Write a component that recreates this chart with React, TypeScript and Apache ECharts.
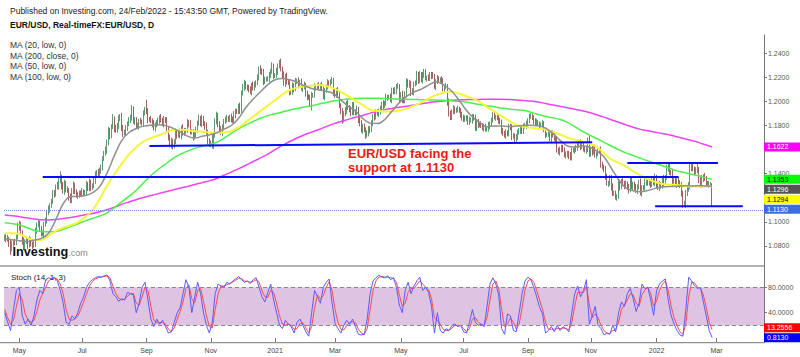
import { useEffect, useRef } from 'react';
import * as echarts from 'echarts';

// ---------------- data ----------------
const START_Y = 2020, START_M = 3, START_D = 17; // first bar: 17 Apr 2020 (weekday bars)
const SLOT_COUNT = 520; // 485 bars + empty future space on the right
const FIRST_OPEN = 10862; // pips
// daily closes in pips (1.0875 -> 10875), Apr 17 2020 .. Feb 24 2022
const closePips = [
  10875,
  10860,10855,10822,10775,10822, 10830,10825,10875,10955,10980,
  10910,10840,10795,10835,10840, 10805,10850,10815,10805,10820,
  10920,10975,10990,10945,10900, 10900,10980,11005,11075,11105,
  11135,11170,11235,11230,11290, 11295,11340,11370,11300,11255,
  11320,11265,11260,11205,11175, 11260,11305,11250,11220,11220,
  11240,11235,11250,11240,11245, 11310,11275,11330,11285,11300,
  11345,11400,11410,11385,11430, 11445,11525,11570,11595,11655,
  11750,11715,11790,11845,11775, 11760,11800,11855,11875,11785,
  11735,11735,11785,11815,11840, 11870,11930,11835,11850,11795,
  11795,11835,11830,11820,11905, 11935,11915,11850,11850,11840,
  11815,11780,11805,11815,11845, 11865,11845,11815,11850,11840,
  11770,11705,11660,11670,11630, 11665,11745,11720,11745,11715,
  11780,11735,11760,11760,11825, 11815,11745,11750,11705,11720,
  11770,11820,11860,11815,11860, 11815,11795,11745,11675,11645,
  11640,11715,11720,11830,11875, 11815,11775,11740,11780,11835,
  11855,11860,11850,11870,11855, 11840,11890,11920,11915,11960,
  11925,12070,12115,12150,12120, 12110,12105,12080,12135,12110,
  12145,12155,12195,12270,12255, 12240,12165,12185,12185,12190,
  12215,12250,12295,12215,12215, 12250,12295,12325,12270,12220,
  12150,12210,12160,12155,12080, 12075,12130,12105,12165,12170,
  12140,12160,12110,12120,12135, 12060,12040,12035,11965,12050,
  12050,12120,12120,12130,12120, 12130,12105,12040,12090,12120,
  12155,12150,12165,12175,12075, 12050,12090,12060,11965,11915,
  11845,11900,11925,11985,11950, 11930,11905,11975,11915,11905,
  11935,11850,11815,11760,11795, 11765,11720,11730,11775,11765,
  11815,11875,11870,11915,11900, 11910,11945,11980,11965,11985,
  12035,12035,12035,12015,12095, 12080,12090,12125,12125,12020,
  12060,12015,12005,12065,12165, 12135,12150,12075,12080,12145,
  12155,12225,12175,12225,12180, 12215,12250,12195,12195,12190,
  12225,12215,12210,12125,12165, 12190,12175,12180,12175,12105,
  12120,12125,11995,11905,11865, 11915,11940,11925,11930,11935,
  11925,11895,11860,11850,11865, 11865,11825,11845,11845,11875,
  11860,11775,11835,11810,11805, 11800,11780,11795,11770,11770,
  11800,11815,11845,11890,11870, 11870,11865,11835,11830,11760,
  11735,11720,11740,11730,11795, 11780,11710,11715,11675,11700,
  11745,11760,11770,11750,11795, 11800,11810,11840,11875,11880,
  11865,11840,11815,11825,11815, 11805,11805,11815,11765,11725,
  11725,11725,11690,11740,11720, 11695,11685,11595,11580,11595,
  11620,11600,11555,11555,11570, 11550,11530,11595,11595,11600,
  11610,11635,11655,11625,11645, 11605,11595,11600,11680,11560,
  11605,11580,11610,11555,11565, 11585,11595,11480,11455,11445,
  11370,11320,11320,11370,11290, 11235,11240,11205,11210,11320,
  11290,11335,11320,11300,11315, 11285,11265,11345,11290,11315,
  11285,11260,11290,11330,11240, 11285,11280,11330,11330,11320,
  11325,11310,11350,11325,11370, 11300,11285,11310,11295,11360,
  11325,11370,11445,11465,11410, 11405,11325,11345,11310,11345,
  11325,11300,11240,11145,11145, 11235,11270,11300,11440,11450,
  11440,11415,11425,11425,11350, 11305,11360,11375,11360,11320,
  11310,11310,11310,11130,
];
// upper / lower shadow beyond the body, in 10-pip units
const wickUp = [
  2,2,3,2,3,2,2,3,2,4,3,2,2,3,2,3,2,3,2,2,
  2,3,2,3,2,2,3,2,3,2,3,2,2,3,3,2,4,3,5,2,
  3,3,2,3,2,3,2,3,2,2,3,2,2,3,2,2,3,2,3,2,
  2,3,2,2,3,2,3,2,2,3,3,4,3,2,5,3,3,2,3,2,
  3,2,3,2,2,3,2,4,3,2,2,3,2,3,2,2,2,8,3,2,
  3,2,3,2,3,2,2,3,2,3,2,3,2,2,3,2,2,3,2,2,
  3,2,3,2,2,3,2,3,2,2,3,2,2,3,2,3,2,2,3,2,
  2,3,2,2,3,4,3,2,2,3,2,2,3,2,2,3,2,3,2,2,
  2,3,2,3,3,2,2,3,2,2,3,2,2,3,2,3,2,3,2,2,
  2,3,2,3,2,2,3,2,2,3,2,3,2,3,2,2,2,3,2,3,
  2,3,2,3,2,3,2,3,2,2,3,2,3,2,2,3,2,3,2,2,
  2,3,2,2,3,2,3,2,3,2,2,3,2,3,2,3,2,3,2,2,
  2,3,2,2,3,2,2,2,3,2,2,3,2,3,2,2,3,2,2,3,
  2,3,2,2,3,2,2,3,2,3,2,2,3,2,2,3,2,3,2,3,
  2,2,3,2,3,2,3,2,2,2,3,2,2,3,2,2,3,2,2,3,
  2,2,3,2,3,2,2,3,2,2,3,2,2,2,3,2,2,2,3,2,
  2,2,3,2,2,2,3,2,2,2,2,3,2,2,2,3,2,2,2,3,
  2,2,2,3,2,2,2,3,2,2,3,2,2,2,3,2,2,3,2,2,
  3,2,2,2,3,2,2,2,3,2,2,2,3,2,2,2,3,2,2,2,
  3,2,2,2,3,2,2,3,2,2,2,3,2,2,3,2,2,2,3,2,
  4,2,3,2,3,2,2,2,3,2,2,2,3,2,2,2,3,2,2,2,
  3,3,2,3,2,3,2,3,2,3,2,2,3,2,2,3,2,2,3,2,
  2,3,2,3,2,3,2,2,3,2,2,3,2,3,2,3,2,3,2,3,
  2,3,2,3,2,3,3,2,3,4,4,3,2,3,7,3,2,3,2,3,
  2,2,3,2,1,
];
const wickDn = [
  2,3,2,3,5,2,3,2,2,2,3,2,3,3,2,2,3,2,2,3,
  2,3,2,2,3,2,2,3,2,2,2,3,2,2,3,2,2,3,2,3,
  2,3,2,2,3,2,2,3,2,2,3,2,2,3,2,2,3,2,2,3,
  2,2,3,2,2,2,3,2,2,2,3,2,3,2,2,3,2,2,3,2,
  3,3,2,2,3,2,2,3,2,3,2,2,3,2,2,3,2,2,3,2,
  2,3,2,3,2,2,3,2,2,3,2,2,3,4,5,3,2,2,3,2,
  2,3,2,2,3,2,3,2,2,3,2,2,3,2,2,3,2,3,2,3,
  2,2,3,11,2,2,3,2,2,3,2,2,3,2,2,3,2,2,3,2,
  2,3,2,2,3,2,2,3,2,3,2,2,3,2,2,3,2,3,2,2,
  2,3,2,2,3,2,2,3,2,2,3,2,3,2,2,3,2,2,3,2,
  2,3,2,2,3,2,2,3,2,1,4,2,2,3,2,2,3,2,2,3,
  2,2,3,2,2,3,2,2,3,2,2,3,2,2,3,2,2,3,2,3,
  2,2,3,2,2,3,2,3,2,2,3,2,2,3,2,2,3,2,2,3,
  2,2,3,2,2,3,2,2,3,2,3,2,3,2,2,3,2,2,3,2,
  3,2,2,3,2,2,3,2,2,3,2,2,3,2,2,3,2,2,3,2,
  2,3,2,3,3,2,2,2,3,2,2,2,3,2,2,2,3,2,2,2,
  3,2,2,2,3,2,2,2,3,2,2,2,3,2,2,2,3,2,2,2,
  3,2,2,3,2,2,2,3,2,3,2,2,2,3,2,2,2,3,2,2,
  2,2,3,2,2,2,3,2,2,2,3,2,2,2,3,2,2,3,2,2,
  3,2,2,2,3,2,3,2,2,2,3,2,2,2,3,2,2,2,3,2,
  2,2,3,2,2,3,2,2,3,2,3,2,2,3,2,3,2,2,2,3,
  2,3,2,2,3,2,2,3,2,2,3,2,2,3,2,2,3,2,2,3,
  2,2,3,2,2,3,2,2,3,2,2,3,2,2,3,2,2,3,2,2,
  3,2,2,3,3,2,3,2,2,3,2,2,3,2,2,3,2,2,3,2,
  2,2,3,2,0,
];

// moving averages read every 5 bars (bars 0,5,...,480 and the last bar 484)
const ma20Low = [
  1.0860,1.0852,1.0843,1.0836,1.0848,1.0862,1.0905,1.1020,1.1150,1.1210,
  1.1212,1.1218,1.1240,1.1292,1.1405,1.1550,1.1675,1.1742,1.1775,1.1795,
  1.1803,1.1806,1.1801,1.1778,1.1747,1.1712,1.1696,1.1710,1.1722,1.1740,
  1.1770,1.1800,1.1860,1.1950,1.2020,1.2080,1.2140,1.2180,1.2190,1.2180,
  1.2160,1.2130,1.2108,1.2096,1.2085,1.2064,1.2012,1.1960,1.1920,1.1858,
  1.1820,1.1816,1.1850,1.1920,1.1990,1.2043,1.2078,1.2102,1.2135,1.2163,
  1.2140,1.2095,1.2025,1.1940,1.1872,1.1825,1.1790,1.1796,1.1797,1.1791,
  1.1795,1.1801,1.1802,1.1799,1.1778,1.1735,1.1677,1.1630,1.1622,1.1630,
  1.1622,1.1590,1.1540,1.1445,1.1350,1.1282,1.1258,1.1250,1.1260,1.1278,
  1.1290,1.1294,1.1295,1.1300,1.1298,1.1300,1.1298,
  1.1296,
];
const ma50Low = [
  1.0905,1.0905,1.0900,1.0870,1.0850,1.0850,1.0885,1.0925,1.0950,1.0972,
  1.0995,1.1040,1.1095,1.1190,1.1300,1.1395,1.1480,1.1560,1.1620,1.1668,
  1.1695,1.1717,1.1740,1.1762,1.1765,1.1762,1.1752,1.1748,1.1742,1.1740,
  1.1742,1.1755,1.1785,1.1828,1.1875,1.1920,1.1965,1.2010,1.2058,1.2095,
  1.2115,1.2126,1.2132,1.2136,1.2128,1.2108,1.2078,1.2045,1.2005,1.1970,
  1.1930,1.1921,1.1916,1.1916,1.1925,1.1940,1.1965,1.1992,1.2025,1.2052,
  1.2072,1.2080,1.2068,1.2048,1.2025,1.1995,1.1955,1.1915,1.1878,1.1840,
  1.1805,1.1790,1.1781,1.1774,1.1766,1.1745,1.1725,1.1700,1.1683,1.1668,
  1.1648,1.1622,1.1570,1.1520,1.1490,1.1460,1.1420,1.1385,1.1355,1.1332,
  1.1315,1.1310,1.1306,1.1298,1.1292,1.1293,1.1294,
  1.1294,
];
const ma100Low = [
  1.0993,1.0985,1.0975,1.0952,1.0930,1.0920,1.0917,1.0920,1.0938,1.0960,
  1.0983,1.1008,1.1028,1.1048,1.1075,1.1118,1.1165,1.1212,1.1262,1.1325,
  1.1385,1.1435,1.1480,1.1526,1.1560,1.1587,1.1610,1.1628,1.1642,1.1660,
  1.1695,1.1735,1.1772,1.1805,1.1833,1.1860,1.1882,1.1898,1.1912,1.1929,
  1.1942,1.1953,1.1965,1.1978,1.1992,1.2004,1.2013,1.2020,1.2024,1.2026,
  1.2027,1.2026,1.2024,1.2022,1.2019,1.2018,1.2016,1.2015,1.2013,1.2012,
  1.2010,1.2006,1.2002,1.1996,1.1985,1.1974,1.1964,1.1955,1.1945,1.1937,
  1.1931,1.1927,1.1910,1.1892,1.1875,1.1864,1.1850,1.1826,1.1790,1.1754,
  1.1722,1.1692,1.1660,1.1630,1.1600,1.1573,1.1551,1.1528,1.1506,1.1486,
  1.1466,1.1445,1.1423,1.1409,1.1395,1.1382,1.1365,
  1.1353,
];
const ma200Close = [
  1.1057,1.1050,1.1043,1.1033,1.1023,1.1017,1.1016,1.1019,1.1027,1.1036,
  1.1046,1.1058,1.1070,1.1084,1.1100,1.1122,1.1145,1.1165,1.1184,1.1202,
  1.1218,1.1234,1.1249,1.1265,1.1279,1.1294,1.1310,1.1325,1.1340,1.1360,
  1.1387,1.1413,1.1441,1.1470,1.1501,1.1531,1.1562,1.1600,1.1635,1.1667,
  1.1696,1.1723,1.1745,1.1767,1.1791,1.1814,1.1833,1.1851,1.1869,1.1884,
  1.1903,1.1918,1.1932,1.1942,1.1952,1.1960,1.1971,1.1981,1.1990,1.1998,
  1.2004,1.2010,1.2013,1.2015,1.2016,1.2017,1.2018,1.2018,1.2018,1.2016,
  1.2013,1.2008,1.2003,1.1995,1.1983,1.1970,1.1959,1.1947,1.1935,1.1923,
  1.1908,1.1890,1.1870,1.1848,1.1827,1.1806,1.1786,1.1768,1.1757,1.1745,
  1.1733,1.1721,1.1706,1.1690,1.1675,1.1658,1.1638,
  1.1622,
];

// Stoch (14,1,3) read every 2 bars (bars 0,2,...,484)
const stochK = [
  40,25,12,45,75,80,35,22,30,20,
  35,60,75,70,92,95,93,96,90,75,
  55,25,22,35,30,40,55,65,80,88,
  92,95,97,96,98,99,90,70,65,58,
  62,60,72,70,68,40,55,80,88,60,
  30,18,30,22,28,18,8,10,25,40,
  48,70,92,80,40,65,88,70,40,20,
  8,25,70,85,82,80,88,85,90,93,
  97,92,88,90,86,92,95,80,65,57,
  72,85,60,40,20,15,28,22,18,8,
  25,30,20,10,3,40,75,65,55,80,
  88,93,55,23,15,8,20,28,22,30,
  18,6,5,6,30,70,90,95,99,96,
  95,98,92,95,80,52,40,75,88,70,
  82,90,96,75,80,72,50,8,40,12,
  8,15,12,20,22,18,20,10,8,25,
  45,25,20,22,18,50,85,95,85,68,
  15,6,38,35,12,10,40,70,90,96,
  92,80,65,48,38,8,12,18,10,20,
  12,18,15,10,40,70,82,65,75,92,
  22,35,50,20,15,5,8,6,20,10,
  40,57,50,70,78,62,42,55,85,78,
  80,60,36,75,85,90,93,60,35,22,
  12,5,3,45,96,90,82,78,80,57,
  35,12,0.813,
];
const stochD = [
  45,32,22,28,50,70,60,38,28,25,
  28,42,60,70,80,90,93,94,93,85,
  70,45,30,28,30,35,45,57,70,82,
  89,93,95,96,97,98,95,82,70,63,
  60,61,66,70,70,55,52,65,80,75,
  50,28,25,24,25,22,14,10,16,30,
  42,57,78,84,62,55,75,78,58,35,
  18,16,45,70,82,82,84,86,88,91,
  94,94,90,89,88,89,92,88,75,65,
  64,75,72,55,35,22,20,22,20,14,
  15,23,24,16,8,18,48,68,62,67,
  80,89,75,45,25,14,13,20,24,26,
  24,14,8,6,15,45,75,90,96,97,
  96,96,95,94,88,68,50,55,72,78,
  78,84,90,85,80,76,62,32,28,22,
  14,12,12,16,20,20,20,15,10,15,
  30,32,25,22,20,32,60,85,90,78,
  45,18,22,32,25,14,22,48,75,90,
  93,88,75,60,45,25,14,14,14,15,
  15,16,15,13,25,50,72,72,72,82,
  52,32,38,32,20,12,8,7,12,13,
  25,45,52,60,70,68,55,50,68,76,
  80,70,50,58,75,85,90,75,50,32,
  20,10,6,22,65,88,87,80,79,68,
  48,25,13.2556,
];

const priceTicks = [1.08, 1.10, 1.12, 1.14, 1.16, 1.18, 1.20, 1.22, 1.24];
// labels hidden where the right-hand price tags cover them
const priceLabels = [1.08, 1.10, 1.14, 1.18, 1.20, 1.22, 1.24];
const stochTicks = [40, 80];
const stochBand = [20, 80];
// hand-drawn trend lines: [barIndex, price] -> [barIndex, price]
const drawnLines = [
  [[99, 1.1630], [402, 1.1660]],
  [[26, 1.1373], [461, 1.1373]],
  [[426, 1.1489], [488, 1.1489]],
  [[445, 1.1129], [505, 1.1129]],
];
const MONTHS = ['Jan','Feb','Mar','Apr','May','Jun','Jul','Aug','Sep','Oct','Nov','Dec'];

// ---------------- derived structures ----------------
function buildDates(): string[] {
  const out: string[] = [];
  let t = Date.UTC(START_Y, START_M, START_D);
  while (out.length < SLOT_COUNT) {
    const d = new Date(t);
    const wd = d.getUTCDay();
    if (wd !== 0 && wd !== 6) out.push(d.toISOString().slice(0, 10));
    t += 86400000;
  }
  return out;
}

const FONT = '"Liberation Sans", Arial, sans-serif';

export default function App() {
  const ref = useRef<HTMLDivElement>(null);
  useEffect(() => {
    if (!ref.current) return;
    const chart = echarts.init(ref.current, undefined, { renderer: 'svg' });
    const dates = buildDates();
    const tickSet = new Set<number>();
    dates.forEach((s, i) => {
      if (i === 0) return;
      const m = +s.slice(5, 7);
      const pm = +dates[i - 1].slice(5, 7);
      if (m !== pm && m % 2 === 1) tickSet.add(i);
    });
    const fmtDate = (v: string) => {
      const m = +v.slice(5, 7);
      return m === 1 ? v.slice(0, 4) : MONTHS[m - 1];
    };

    const candles = closePips.map((c, i) => {
      const o = i === 0 ? FIRST_OPEN : closePips[i - 1];
      const hi = Math.max(o, c) + wickUp[i] * 10;
      const lo = Math.min(o, c) - wickDn[i] * 10;
      return [o / 1e4, c / 1e4, lo / 1e4, hi / 1e4];
    });
    const lastClose = closePips[closePips.length - 1] / 1e4;

    const maBars: number[] = [];
    for (let b = 0; b <= 480; b += 5) maBars.push(b);
    maBars.push(484);
    const stBars = stochK.map((_, k) => k * 2);
    const pairs = (xs: number[], ys: number[]) => ys.map((v, k) => [xs[k], v]);

    const maSeries = (data: number[], color: string, width: number) => ({
      type: 'line', xAxisIndex: 0, yAxisIndex: 0, data: pairs(maBars, data), showSymbol: false,
      smooth: 0.35, silent: true, z: 3, lineStyle: { color, width },
    });

    const option: any = {
      animation: false,
      backgroundColor: '#ffffff',
      grid: [
        { left: 4, top: 35, width: 760, height: 231 },
        { left: 4, top: 266, width: 760, height: 76.7 },
      ],
      xAxis: [
        { type: 'category', gridIndex: 0, data: dates, boundaryGap: true, show: false },
        {
          type: 'category', gridIndex: 1, data: dates, boundaryGap: true,
          axisLine: { show: false },
          axisTick: { show: true, interval: (i: number) => tickSet.has(i), alignWithLabel: true, length: 4, lineStyle: { color: '#777' } },
          axisLabel: { interval: (i: number) => tickSet.has(i), formatter: (v: string) => fmtDate(v), fontSize: 7, color: '#444', margin: 4, fontFamily: FONT },
          splitLine: { show: false },
        },
      ],
      yAxis: [
        {
          type: 'value', gridIndex: 0, position: 'right', min: 1.0633, max: 1.2552,
          axisLine: { show: true, lineStyle: { color: '#777' } },
          axisTick: { show: true, length: 3, customValues: priceTicks, lineStyle: { color: '#777' } },
          axisLabel: { customValues: priceLabels, formatter: (v: number) => v.toFixed(4), fontSize: 7, color: '#555', margin: 4, fontFamily: FONT },
          splitLine: { show: false },
        },
        {
          type: 'value', gridIndex: 1, position: 'right', min: -7.2, max: 113.5,
          axisLine: { show: true, lineStyle: { color: '#777' } },
          axisTick: { show: true, length: 3, customValues: stochTicks, lineStyle: { color: '#777' } },
          axisLabel: { customValues: stochTicks, formatter: (v: number) => v.toFixed(4), fontSize: 7, color: '#555', margin: 4, fontFamily: FONT },
          splitLine: { show: false },
        },
      ],
      series: [
        {
          type: 'candlestick', xAxisIndex: 0, yAxisIndex: 0, data: candles, barWidth: 1.2, z: 2,
          itemStyle: { color: '#2a9d4f', color0: '#c0392b', borderColor: '#1b6b35', borderColor0: '#7a1f1a', borderWidth: 0.7 },
          markLine: {
            silent: true, symbol: 'none', label: { show: false },
            lineStyle: { type: 'dotted', color: '#6d8fe0', width: 1 },
            data: [{ yAxis: lastClose }],
          },
        },
        maSeries(ma200Close, '#ee44ee', 1.5),
        maSeries(ma100Low, '#4def4d', 1.5),
        maSeries(ma50Low, '#f5f53a', 2),
        maSeries(ma20Low, '#8f8f8f', 1.5),
        ...drawnLines.map((seg) => ({
          type: 'line', xAxisIndex: 0, yAxisIndex: 0, data: seg, showSymbol: false, silent: true, z: 5,
          lineStyle: { color: '#0a0aff', width: 2 },
        })),
        {
          type: 'line', xAxisIndex: 1, yAxisIndex: 1, data: [[0, 50]], showSymbol: false, silent: true, z: 1,
          lineStyle: { opacity: 0 },
          markArea: { silent: true, itemStyle: { color: '#dfc3e2' }, data: [[{ yAxis: stochBand[0] }, { yAxis: stochBand[1] }]] },
          markLine: {
            silent: true, symbol: 'none', label: { show: false },
            lineStyle: { type: [4, 3], color: '#888', width: 1 },
            data: [{ yAxis: stochBand[0] }, { yAxis: stochBand[1] }],
          },
        },
        {
          type: 'line', xAxisIndex: 1, yAxisIndex: 1, data: pairs(stBars, stochD), showSymbol: false, silent: true, z: 3,
          lineStyle: { color: '#ff4a4a', width: 1 },
        },
        {
          type: 'line', xAxisIndex: 1, yAxisIndex: 1, data: pairs(stBars, stochK), showSymbol: false, silent: true, z: 4,
          lineStyle: { color: '#5a5aff', width: 1 },
        },
      ],
    };
    chart.setOption(option);

    // ---- overlay texts, separators and price tags ----
    const txt = (x: number, y: number, text: string, font: string, fill: string) => ({
      type: 'text', x, y, silent: true, z: 100,
      style: { text, font, fill, align: 'left', verticalAlign: 'middle' },
    });
    const hline = (x1: number, x2: number, y: number, stroke: string, lineWidth: number) => ({
      type: 'line', silent: true, z: 90, shape: { x1, y1: y, x2, y2: y }, style: { stroke, lineWidth },
    });
    const TAG_H = 10;
    const placeTags = (items: any[], bottom: number) => {
      const s = [...items].sort((a, b) => a.y - b.y);
      for (let k = 1; k < s.length; k++) if (s[k].y < s[k - 1].y + TAG_H) s[k].y = s[k - 1].y + TAG_H;
      const over = s[s.length - 1].y + TAG_H / 2 - bottom;
      if (over > 0) s.forEach((t) => (t.y -= over));
      return s;
    };
    const last = (a: number[]) => a[a.length - 1];
    const py = (v: number, idx: number) => chart.convertToPixel({ yAxisIndex: idx } as any, v) as number;
    const mainTags = placeTags([
      { v: last(ma200Close), bg: '#ff00ff', fg: '#ffffff' },
      { v: last(ma100Low), bg: '#00ff00', fg: '#000000' },
      { v: last(ma20Low), bg: '#555555', fg: '#ffffff' },
      { v: last(ma50Low), bg: '#ffff00', fg: '#000000' },
      { v: lastClose, bg: '#3d6fd8', fg: '#ffffff' },
    ].map((t) => ({ ...t, y: py(t.v, 0), label: t.v.toFixed(4) })), 266);
    const stochTags = placeTags([
      { v: last(stochD), bg: '#ff0000', fg: '#ffffff' },
      { v: last(stochK), bg: '#0000ff', fg: '#ffffff' },
    ].map((t) => ({ ...t, y: py(t.v, 1), label: t.v.toFixed(4) })), 342.7);
    const tagEls: any[] = [];
    [...mainTags, ...stochTags].forEach((t) => {
      tagEls.push({ type: 'rect', silent: true, z: 110, shape: { x: 764, y: t.y - 4.5, width: 36, height: 9 }, style: { fill: t.bg } });
      tagEls.push({ ...txt(767, t.y, t.label, `7px ${FONT}`, t.fg), z: 111 });
    });

    const graphics: any[] = [
      txt(10, 11, 'Published on Investing.com, 24/Feb/2022 - 15:43:50 GMT, Powered by TradingView.', `8.5px ${FONT}`, '#222'),
      txt(10, 25, 'EUR/USD, Real-timeFX:EUR/USD, D', `bold 8.5px ${FONT}`, '#111'),
      txt(10, 45, 'MA (20, low, 0)', `8.5px ${FONT}`, '#333'),
      txt(10, 55.7, 'MA (200, close, 0)', `8.5px ${FONT}`, '#333'),
      txt(10, 66.3, 'MA (50, low, 0)', `8.5px ${FONT}`, '#333'),
      txt(10, 77, 'MA (100, low, 0)', `8.5px ${FONT}`, '#333'),
      txt(348, 153.3, 'EUR/USD facing the', `bold 13px ${FONT}`, '#f01818'),
      txt(348, 167.7, 'support at 1.1130', `bold 13px ${FONT}`, '#f01818'),
      txt(12.5, 251.5, 'Investing', `bold 12.7px ${FONT}`, '#111'),
      txt(68.3, 252.9, '.com', `9px ${FONT}`, '#888'),
      txt(11, 277, 'Stoch (14, 1, 3)', `8px ${FONT}`, '#222'),
      hline(0, 764, 266, '#999999', 1.5),
      hline(0, 764, 342.7, '#777777', 1),
      ...tagEls,
    ];
    chart.setOption({ graphic: graphics });

    return () => chart.dispose();
  }, []);
  return <div ref={ref} style={{ position: 'fixed', left: 0, top: 0, width: 800, height: 357 }} />;
}
